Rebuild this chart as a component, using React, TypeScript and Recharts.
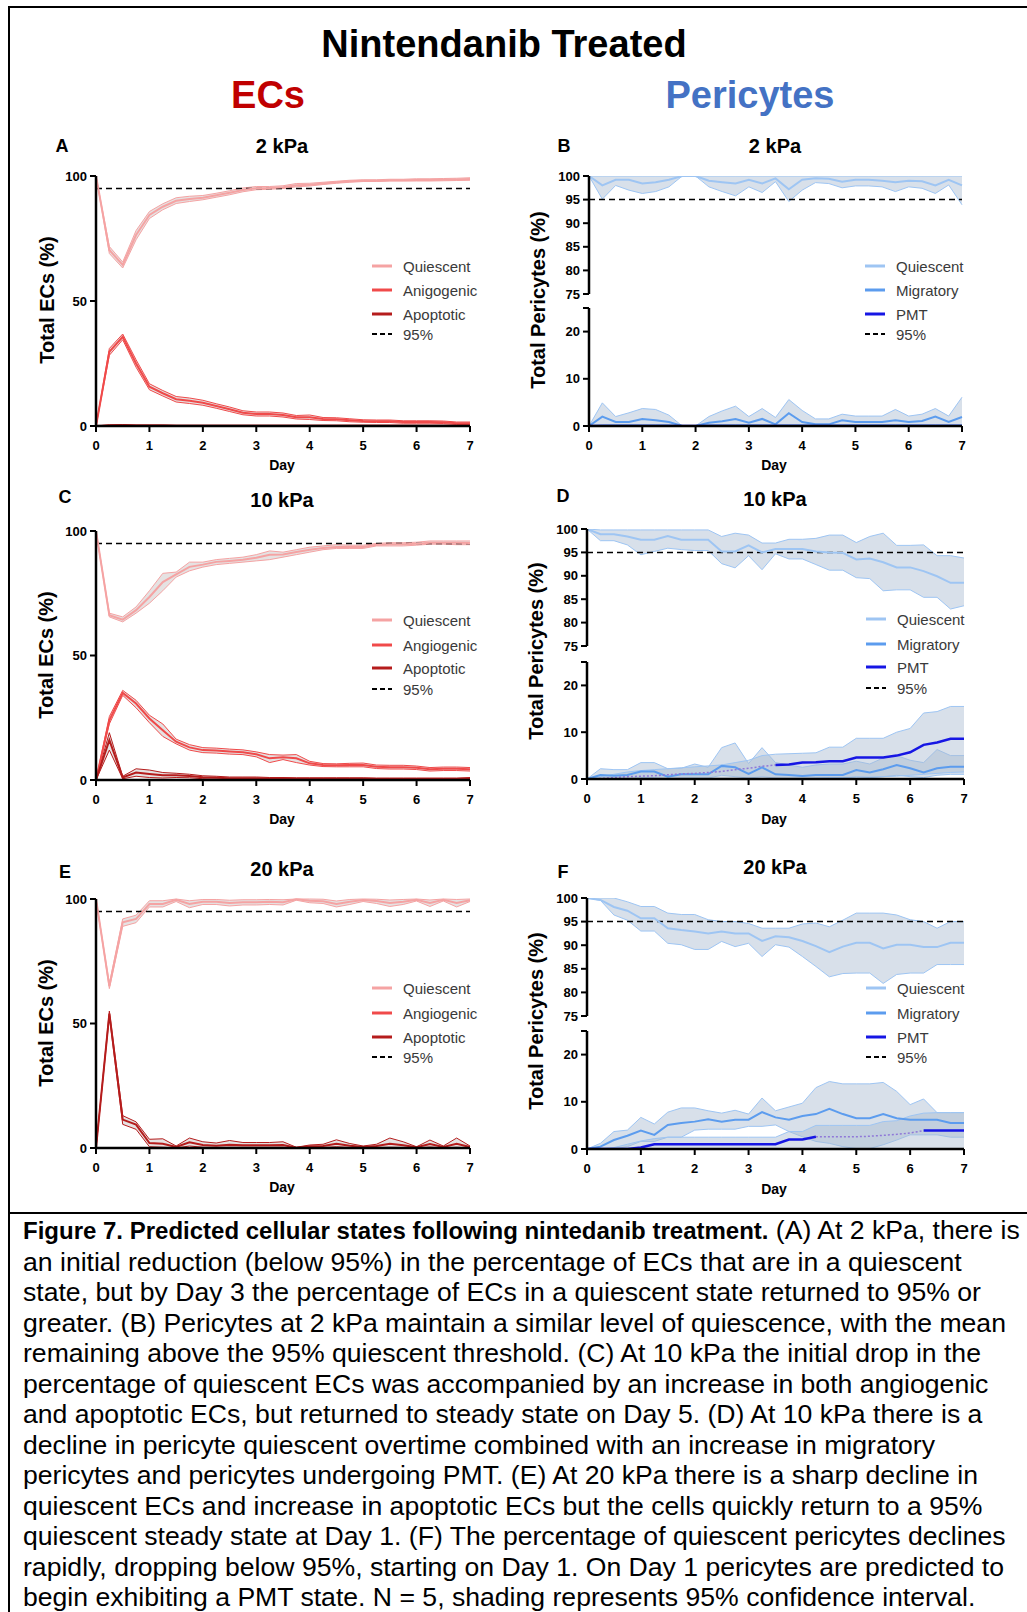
import React from "react";
import { Area, ComposedChart, Line, ReferenceLine, XAxis, YAxis } from "recharts";

const FONT = '"Liberation Sans", Arial, Helvetica, sans-serif';

// sampling days (every 6 h)
const days = [0, 0.25, 0.5, 0.75, 1, 1.25, 1.5, 1.75, 2, 2.25, 2.5, 2.75, 3, 3.25, 3.5, 3.75, 4, 4.25, 4.5, 4.75, 5, 5.25, 5.5, 5.75, 6, 6.25, 6.5, 6.75, 7];
const dayTicks = [0, 1, 2, 3, 4, 5, 6, 7];
const ecTicks = [0, 50, 100];
const periTopTicks = [75, 80, 85, 90, 95, 100];
const periBottomTicks = [0, 10, 20, 25];

// A: ECs 2 kPa
const aQuiMean = [100, 70.4, 64.4, 76.4, 84.4, 87.7, 90.1, 90.8, 91.3, 92.3, 93.3, 94.4, 95.1, 95.2, 95.5, 96.3, 96.5, 97, 97.5, 97.9, 98.1, 98.1, 98.3, 98.3, 98.4, 98.4, 98.5, 98.6, 98.8];
const aQuiLo = [100, 69, 63.2, 74.5, 83, 86.5, 89, 89.8, 90.5, 91.5, 92.5, 93.7, 94.5, 94.7, 95, 95.7, 96, 96.6, 97.1, 97.5, 97.8, 97.8, 98, 98, 98, 98, 98.1, 98.2, 98.3];
const aQuiHi = [100, 71.8, 65.6, 78.2, 85.8, 88.9, 91.3, 91.9, 92.2, 93.1, 94.1, 95.2, 95.8, 95.8, 96.1, 97, 97.1, 97.5, 97.9, 98.3, 98.5, 98.5, 98.7, 98.7, 98.9, 98.9, 99, 99.1, 99.3];
const aAngMean = [0, 29.7, 35.7, 25, 15.7, 13.1, 10.7, 10.1, 9.3, 8, 6.7, 5.3, 4.8, 4.8, 4.4, 3.5, 3.5, 2.8, 2.7, 2.3, 2, 1.9, 1.9, 1.6, 1.6, 1.6, 1.5, 1.1, 1.1];
const aAngLo = [0, 28.3, 34.5, 23.5, 14.5, 12, 9.6, 9, 8.3, 7.1, 5.8, 4.5, 4, 4, 3.6, 2.8, 2.6, 2.2, 2.1, 1.7, 1.5, 1.4, 1.4, 1.1, 1.1, 1.1, 1, 0.6, 0.6];
const aAngHi = [0, 31, 36.8, 26.5, 16.9, 14.2, 11.8, 11.2, 10.3, 8.9, 7.6, 6.1, 5.6, 5.6, 5.2, 4.2, 4.4, 3.4, 3.3, 2.9, 2.5, 2.4, 2.4, 2.1, 2.1, 2.1, 2, 1.6, 1.6];
const aApoMean = [0, 0.2, 0.3, 0.2, 0.2, 0.2, 0.1, 0.1, 0.1, 0.1, 0.1, 0.1, 0.1, 0.1, 0.1, 0.1, 0.1, 0.1, 0.1, 0.1, 0.1, 0.1, 0.1, 0.1, 0.1, 0.1, 0.1, 0.1, 0.1];
const aApoLo = [0, 0, 0, 0, 0, 0, 0, 0, 0, 0, 0, 0, 0, 0, 0, 0, 0, 0, 0, 0, 0, 0, 0, 0, 0, 0, 0, 0, 0];
const aApoHi = [0, 0.5, 0.6, 0.4, 0.4, 0.4, 0.3, 0.3, 0.3, 0.3, 0.3, 0.3, 0.3, 0.3, 0.3, 0.3, 0.3, 0.3, 0.3, 0.3, 0.3, 0.3, 0.3, 0.3, 0.3, 0.3, 0.3, 0.3, 0.3];

// B: pericytes 2 kPa
const bQuiMean = [100, 98, 99.2, 99.2, 98.4, 98.7, 99.2, 100, 100, 99, 98.7, 98.4, 99.2, 98.4, 99.5, 97.2, 99.2, 99.5, 99.4, 98.8, 99.2, 99.2, 99, 98.7, 99, 98.9, 98, 99.2, 98];
const bQuiLo = [100, 95.1, 98, 97, 96.3, 96.7, 97.7, 100, 100, 97.7, 96.7, 95.8, 97.7, 96.5, 98.8, 94.6, 97, 98.6, 98.4, 97.5, 97.9, 97.9, 97.7, 96.7, 97.7, 97.4, 96.3, 98.1, 93.9];
const bQuiHi = [100, 100, 100, 100, 100, 100, 100, 100, 100, 100, 100, 100, 100, 100, 100, 100, 100, 100, 100, 100, 100, 100, 100, 100, 100, 100, 100, 100, 100];
const bMigMean = [0, 2, 0.85, 0.85, 1.5, 1.2, 0.85, 0, 0, 0.7, 1, 1.5, 0.7, 1.5, 0.35, 2.7, 0.85, 0.35, 0.35, 1.2, 0.85, 0.85, 0.85, 1.2, 0.85, 1.05, 2, 0.85, 1.9];
const bMigLo = [0, 0, 0, 0, 0, 0, 0, 0, 0, 0, 0, 0, 0, 0, 0, 0, 0, 0, 0, 0, 0, 0, 0, 0, 0, 0, 0, 0, 0];
const bMigHi = [0, 4.9, 2, 2.8, 3.7, 3.5, 2.3, 0, 0, 2, 3.2, 4.2, 2, 3.7, 1.8, 5.6, 3.3, 1.5, 1.5, 2.5, 2.1, 2.1, 2.1, 3.5, 2.1, 2.5, 3.7, 2.1, 6.1];
const bPmtMean = [0, 0, 0, 0, 0, 0, 0, 0, 0, 0, 0, 0, 0, 0, 0, 0, 0, 0, 0, 0, 0, 0, 0, 0, 0, 0, 0, 0, 0];
const bPmtLo = [0, 0, 0, 0, 0, 0, 0, 0, 0, 0, 0, 0, 0, 0, 0, 0, 0, 0, 0, 0, 0, 0, 0, 0, 0, 0, 0, 0, 0];
const bPmtHi = [0, 0.3, 0.3, 0.3, 0.3, 0.3, 0.3, 0, 0, 0.3, 0.3, 0.3, 0.3, 0.3, 0.3, 0.3, 0.3, 0.3, 0.3, 0.3, 0.3, 0.3, 0.3, 0.3, 0.3, 0.3, 0.3, 0.3, 0.3];

// C: ECs 10 kPa
const cQuiMean = [100, 66.2, 64.4, 68.2, 73.5, 79.5, 82.6, 85.6, 86.5, 87.6, 88, 88.5, 89.3, 90.5, 90.6, 91.6, 92.5, 93.2, 93.6, 93.6, 93.6, 94.5, 94.7, 94.7, 94.9, 95.3, 95.3, 95.3, 95.2];
const cQuiLo = [100, 65.5, 63.5, 67, 71, 76, 81.5, 84, 85.5, 86.5, 87, 87.5, 88, 88.5, 89.5, 90.5, 91.5, 92.5, 93, 93, 93, 94, 94, 94, 94.3, 94.7, 94.7, 94.5, 94.5];
const cQuiHi = [100, 67, 65.5, 69.5, 76, 83, 83.5, 87.5, 87.5, 88.5, 89, 89.5, 90.5, 92, 91.5, 92.5, 93.5, 94, 94.5, 94.3, 94.3, 95, 95.3, 95.3, 95.5, 96, 96, 96, 96];
const cAngMean = [0, 24, 35, 30.7, 24.7, 20, 15.4, 13.1, 12, 11.8, 11.4, 11.1, 10.3, 8.7, 9.1, 8.7, 6.7, 6, 5.9, 6, 6, 5.3, 5.1, 5.1, 4.9, 4.3, 4.5, 4.5, 4.3];
const cAngLo = [0, 22.5, 34, 29, 23, 17.5, 14.5, 12, 11, 10.8, 10.4, 10.2, 9.3, 7, 8.2, 7, 6, 5.4, 5.3, 5.3, 5.3, 4.6, 4.4, 4.4, 4.2, 3.6, 3.8, 3.8, 3.6];
const cAngHi = [0, 25.5, 36, 32, 26, 22.5, 16.4, 14.2, 13, 12.8, 12.4, 12.1, 11.3, 10.2, 10, 10.2, 7.5, 6.6, 6.5, 6.7, 6.8, 6, 5.9, 5.9, 5.6, 5, 5.2, 5.2, 5];
const cApoMean = [0, 16, 1, 3, 2.4, 1.9, 1.9, 1.6, 1.1, 0.9, 0.7, 0.7, 0.7, 0.6, 0.6, 0.5, 0.5, 0.5, 0.5, 0.5, 0.5, 0.4, 0.4, 0.4, 0.4, 0.4, 0.4, 0.4, 0.5];
const cApoLo = [0, 12, 0.5, 1.5, 1, 0.8, 1, 0.9, 0.5, 0.3, 0.2, 0.2, 0.2, 0.2, 0.2, 0.1, 0.1, 0.1, 0.1, 0.1, 0.1, 0.1, 0.1, 0.1, 0.1, 0.1, 0.1, 0.1, 0.1];
const cApoHi = [0, 19, 1.5, 4.5, 4, 3, 2.7, 2.3, 1.7, 1.5, 1.2, 1.2, 1.2, 1, 1, 0.9, 0.9, 0.9, 0.9, 0.9, 0.9, 0.8, 0.8, 0.8, 0.8, 0.8, 0.8, 0.8, 1];

// D: pericytes 10 kPa
const dQuiMean = [100, 98.9, 98.9, 98.4, 97.7, 97.7, 98.5, 97.7, 97.7, 97.7, 95.2, 95.2, 96.5, 95, 95.7, 95.7, 95.7, 95.2, 95, 94.9, 93.5, 93.7, 92.9, 91.8, 91.8, 91, 89.9, 88.5, 88.5];
const dQuiLo = [100, 97.5, 97.5, 96.6, 94.5, 95.2, 95.9, 95.6, 95.4, 95.4, 92.6, 91.7, 94.3, 91.3, 94.7, 93.6, 93.6, 92.4, 91.2, 91.2, 89.6, 89.4, 86.8, 87, 87, 85.4, 85.4, 82.9, 83.6];
const dQuiHi = [100, 99.8, 99.8, 99.8, 99.8, 99.8, 99.8, 99.8, 99.8, 99.8, 98.4, 99.1, 98.7, 97, 97, 97.8, 97.8, 98, 98.7, 98.7, 97.1, 98.4, 99.1, 96.5, 96.5, 96.6, 94.3, 94.3, 93.8];
const dMigMean = [0, 0.85, 0.7, 0.85, 1.6, 1.6, 0.5, 1, 1, 1, 2.8, 2.5, 1.1, 2.5, 1, 0.85, 0.65, 0.85, 0.85, 0.85, 1.9, 1.4, 2.1, 3, 2.3, 1.4, 2.3, 2.6, 2.6];
const dMigLo = [0, 0, 0, 0, 0.3, 0.3, 0, 0.2, 0.2, 0.2, 0.8, 0.5, 0.2, 0.5, 0.2, 0.1, 0, 0.1, 0.1, 0.1, 0.5, 0.3, 0.5, 0.8, 0.5, 0.3, 0.8, 1, 1];
const dMigHi = [0, 2.2, 2, 2, 3.5, 3.5, 2.2, 2.3, 3.2, 2.5, 6.7, 7.7, 3.3, 6.7, 3.5, 3, 2.5, 3, 3.2, 3.2, 3.8, 3.2, 4.5, 5, 4, 3.5, 6.3, 5, 5];
const dPmtMean = [0, 0.1, 0.3, 0.5, 0.6, 0.7, 0.9, 1.1, 1.2, 1.4, 1.6, 2, 2.3, 2.7, 3, 3.1, 3.5, 3.6, 3.8, 3.8, 4.6, 4.6, 4.6, 5, 5.7, 7.3, 7.8, 8.6, 8.6];
const dPmtLo = [0, 0, 0, 0, 0, 0, 0, 0, 0, 0, 0, 0, 0, 0, 0, 0, 0, 0.2, 0.3, 0.3, 0.4, 0.4, 0.5, 0.6, 0.8, 1, 1.2, 1.4, 1.5];
const dPmtHi = [0, 0.5, 1, 1.5, 1.8, 2, 2.2, 2.4, 2.6, 2.8, 3, 3.5, 4, 5, 5.3, 5.4, 5.5, 5.6, 6.8, 6.8, 8.7, 8.7, 8.7, 10, 10.8, 14.1, 14.4, 15.5, 15.5];
const dPmtDotted = [0, 3.5];

// E: ECs 20 kPa
const eQuiMean = [100, 65, 90.6, 92, 98, 98, 99.7, 98, 98.9, 98.9, 98.4, 98.7, 98.7, 98.9, 98.7, 99.9, 99.3, 99.1, 98, 98.9, 99.6, 99.2, 98.4, 98.9, 99.7, 98.4, 99.7, 98.4, 99.5];
const eQuiLo = [100, 64, 89, 90.5, 96.8, 96.8, 99, 96.5, 97.8, 97.8, 97.2, 97.6, 97.6, 97.8, 97.6, 99.5, 98.5, 98.2, 96.8, 97.8, 99, 98.2, 97, 97.8, 99.2, 97, 99.2, 96.8, 99];
const eQuiHi = [100, 66, 92, 93.5, 99.3, 99.3, 100, 99.3, 99.8, 99.8, 99.5, 99.7, 99.7, 99.8, 99.7, 100, 100, 99.9, 99.2, 99.8, 100, 99.9, 99.6, 99.8, 100, 99.6, 100, 99.8, 100];
const eAngMean = [0, 0, 0, 0, 0, 0, 0, 0, 0, 0, 0, 0, 0, 0, 0, 0, 0, 0, 0, 0, 0, 0, 0, 0, 0, 0, 0, 0, 0];
const eAngLo = [0, 0, 0, 0, 0, 0, 0, 0, 0, 0, 0, 0, 0, 0, 0, 0, 0, 0, 0, 0, 0, 0, 0, 0, 0, 0, 0, 0, 0];
const eAngHi = [0, 0, 0, 0, 0, 0, 0, 0, 0, 0, 0, 0, 0, 0, 0, 0, 0, 0, 0, 0, 0, 0, 0, 0, 0, 0, 0, 0, 0];
const eApoMean = [0, 54, 11.4, 9.4, 2, 1.7, 0.4, 2.3, 1.2, 0.9, 1.3, 1.1, 1.1, 1.1, 1.2, 0.1, 0.7, 0.8, 1.7, 0.9, 0.4, 0.8, 1.7, 1.1, 0.3, 1.6, 0.4, 1.7, 0.4];
const eApoLo = [0, 53, 9.5, 7.5, 0.5, 0.3, 0, 0.8, 0.3, 0.2, 0.3, 0.3, 0.3, 0.3, 0.3, 0, 0.2, 0.2, 0.5, 0.2, 0, 0.2, 0.3, 0.2, 0, 0.4, 0, 0.3, 0];
const eApoHi = [0, 55, 13, 10.5, 3.5, 3.7, 0.8, 4, 2.5, 2, 3, 2.2, 2.2, 2.2, 2.5, 0.3, 1.2, 1.5, 3.3, 1.8, 0.8, 1.5, 4, 2.5, 0.5, 3.2, 0.8, 4, 0.8];

// F: pericytes 20 kPa
const fQuiMean = [100, 99.6, 98.1, 97.3, 95.7, 95.7, 93.6, 93.2, 92.9, 92.5, 92.9, 92.5, 92.5, 90.9, 91.9, 91.7, 90.9, 89.8, 88.5, 89.7, 90.5, 90.5, 89.3, 90.1, 90.1, 89.6, 89.6, 90.5, 90.5];
const fQuiLo = [100, 99.5, 96.4, 95.3, 93, 93, 90.4, 90.1, 89.1, 89.1, 90.8, 89.7, 90.4, 87.6, 90.1, 89.6, 87.6, 85.5, 83.3, 84, 84.1, 84.1, 81.9, 83.8, 84.1, 84.1, 85.9, 85.9, 85.9];
const fQuiHi = [100, 100, 100, 99.2, 98.2, 98.2, 96.8, 96.5, 96.5, 95.4, 95, 95, 94.6, 93.6, 93.6, 93.6, 94.5, 94.7, 93.9, 95.3, 96.8, 96.8, 96.8, 96.4, 95.4, 95, 93.6, 95, 95];
const fMigMean = [0, 0.5, 1.9, 2.8, 3.9, 3, 5.1, 5.5, 5.8, 6.3, 5.8, 6.2, 6.2, 7.8, 6.7, 6.2, 7, 7.4, 8.5, 7.4, 6.5, 6.5, 7.4, 6.5, 6.2, 6.2, 6.2, 5.5, 5.5];
const fMigLo = [0, 0, 0, 0.5, 1.6, 1.6, 2.5, 2.5, 4, 4.2, 4.2, 4.2, 4.8, 4.8, 5.1, 3.7, 2.6, 1.6, 1.2, 0.5, 0.1, 0.1, 0.9, 1.9, 3, 3, 3, 2.5, 2.5];
const fMigHi = [0, 1.2, 3.7, 4, 6.7, 5.3, 7.8, 8.7, 8.7, 8.1, 7.6, 8.2, 7.4, 10.8, 8.1, 8.9, 9.7, 13, 14.3, 13.8, 13.8, 13.8, 14.1, 12.2, 9.4, 10.6, 7.7, 7.7, 7.7];
const fPmtMean = [0, 0, 0, 0, 0.3, 1, 1, 1, 1, 1, 1, 1, 1, 1, 1, 2, 2, 2.6, 2.6, 2.6, 2.6, 2.7, 2.9, 3.1, 3.4, 3.9, 3.9, 3.9, 3.9];
const fPmtLo = [0, 0, 0, 0, 0, 0, 0, 0, 0, 0, 0, 0, 0, 0, 0, 0, 0, 0, 0, 0, 0, 0, 0, 0, 0, 0, 0, 0, 0];
const fPmtHi = [0, 0, 0.3, 1, 1.7, 2.2, 2.5, 2.5, 2.5, 2.5, 2.5, 2.5, 2.5, 2.5, 2.5, 3.7, 3.7, 5, 5, 5, 5, 5, 5.8, 6, 7, 7.6, 7.7, 7.7, 7.7];
const fPmtDotted = [4.25, 6.25];

const ecLegendA = ["Quiescent", "Anigogenic", "Apoptotic", "95%"];
const ecLegend = ["Quiescent", "Angiogenic", "Apoptotic", "95%"];
const periLegend = ["Quiescent", "Migratory", "PMT", "95%"];

const captionLines = [
  "an initial reduction (below 95%) in the percentage of ECs that are in a quiescent",
  "state, but by Day 3 the percentage of ECs in a quiescent state returned to 95% or",
  "greater. (B) Pericytes at 2 kPa maintain a similar level of quiescence, with the mean",
  "remaining above the 95% quiescent threshold. (C) At 10 kPa the initial drop in the",
  "percentage of quiescent ECs was accompanied by an increase in both angiogenic",
  "and apoptotic ECs, but returned to steady state on Day 5. (D) At 10 kPa there is a",
  "decline in pericyte quiescent overtime combined with an increase in migratory",
  "pericytes and pericytes undergoing PMT. (E) At 20 kPa there is a sharp decline in",
  "quiescent ECs and increase in apoptotic ECs but the cells quickly return to a 95%",
  "quiescent steady state at Day 1. (F) The percentage of quiescent pericytes declines",
  "rapidly, dropping below 95%, starting on Day 1. On Day 1 pericytes are predicted to",
  "begin exhibiting a PMT state. N = 5, shading represents 95% confidence interval.",
];

const EC_Q = "#f5a3a3";
const EC_A = "#f04a4a";
const EC_P = "#b51c1c";
const PC_Q = "#9ec5f3";
const PC_M = "#5c9cee";
const PC_P = "#1616e4";
const PC_DOT = "#8f78d8";
const EC_FILL = "#cfcaca";
const PC_FILL = "#a9bbd0";

const tick = { fill: "#000", fontSize: 13, fontWeight: 700, fontFamily: FONT };
const axisLine = { stroke: "#000", strokeWidth: 2.5 };
const tickLine = { stroke: "#000", strokeWidth: 2 };
const YW = 56;

type S = { mean: number[]; lo: number[]; hi: number[] };

function band(s: S, i: number) {
  return [s.lo[i], s.hi[i]];
}

function EcChart({ left, top, h, q, a, p }: { left: number; top: number; h: number; q: S; a: S; p: S }) {
  const pw = 374;
  const rows = days.map((d, i) => ({
    day: d,
    qb: band(q, i), q: q.mean[i],
    ab: band(a, i), a: a.mean[i],
    pb: band(p, i), p: p.mean[i],
  }));
  return (
    <div style={{ position: "absolute", left: left - YW, top: top - 10 }}>
      <ComposedChart width={YW + pw + 12} height={10 + h + 34} data={rows} margin={{ top: 10, right: 12, bottom: 0, left: 0 }}>
        <XAxis type="number" dataKey="day" domain={[0, 7]} ticks={dayTicks} interval={0} height={34} axisLine={axisLine} tickLine={tickLine} tickSize={6} tickMargin={9} tick={tick} />
        <YAxis type="number" domain={[0, 100]} ticks={ecTicks} interval={0} width={YW} axisLine={axisLine} tickLine={tickLine} tickSize={6} tickMargin={3} tick={tick} />
        <ReferenceLine y={95} stroke="#000" strokeWidth={1.5} strokeDasharray="6 4" />
        <Area type="linear" dataKey="qb" stroke={EC_Q} strokeWidth={1} fill={EC_FILL} fillOpacity={0.55} dot={false} activeDot={false} isAnimationActive={false} />
        <Area type="linear" dataKey="ab" stroke={EC_A} strokeWidth={1} fill={EC_FILL} fillOpacity={0.55} dot={false} activeDot={false} isAnimationActive={false} />
        <Area type="linear" dataKey="pb" stroke={EC_P} strokeWidth={1} fill={EC_FILL} fillOpacity={0.55} dot={false} activeDot={false} isAnimationActive={false} />
        <Line type="linear" dataKey="q" stroke={EC_Q} strokeWidth={2} dot={false} activeDot={false} isAnimationActive={false} />
        <Line type="linear" dataKey="a" stroke={EC_A} strokeWidth={2} dot={false} activeDot={false} isAnimationActive={false} />
        <Line type="linear" dataKey="p" stroke={EC_P} strokeWidth={2} dot={false} activeDot={false} isAnimationActive={false} />
      </ComposedChart>
    </div>
  );
}

function PeriChart({ left, right, topT, topB, h, q, m, p, dotted }: { left: number; right: number; topT: number; topB: number; h: number; q: S; m: S; p: S; dotted?: number[] }) {
  const pw = right - left;
  const rows = days.map((d, i) => {
    const inDot = !!dotted && d >= dotted[0] && d <= dotted[1];
    const inside = !!dotted && d > dotted[0] && d < dotted[1];
    return {
      day: d,
      qb: band(q, i), q: q.mean[i],
      mb: band(m, i), m: m.mean[i],
      pb: band(p, i),
      ps: inside ? null : p.mean[i],
      pd: inDot ? p.mean[i] : null,
    };
  });
  return (
    <>
      <div style={{ position: "absolute", left: left - YW, top: topT - 10 }}>
        <ComposedChart width={YW + pw + 12} height={10 + h + 12} data={rows} margin={{ top: 10, right: 12, bottom: 12, left: 0 }}>
          <XAxis hide type="number" dataKey="day" domain={[0, 7]} />
          <YAxis type="number" domain={[75, 100]} allowDataOverflow ticks={periTopTicks} interval={0} width={YW} axisLine={axisLine} tickLine={tickLine} tickSize={6} tickMargin={3} tick={tick} />
          <ReferenceLine y={95} stroke="#000" strokeWidth={1.5} strokeDasharray="6 4" />
          <Area type="linear" dataKey="qb" stroke={PC_Q} strokeWidth={1} fill={PC_FILL} fillOpacity={0.45} dot={false} activeDot={false} isAnimationActive={false} />
          <Line type="linear" dataKey="q" stroke={PC_Q} strokeWidth={2} dot={false} activeDot={false} isAnimationActive={false} />
        </ComposedChart>
      </div>
      <div style={{ position: "absolute", left: left - YW, top: topB - 10 }}>
        <ComposedChart width={YW + pw + 12} height={10 + h + 34} data={rows} margin={{ top: 10, right: 12, bottom: 0, left: 0 }}>
          <XAxis type="number" dataKey="day" domain={[0, 7]} ticks={dayTicks} interval={0} height={34} axisLine={axisLine} tickLine={tickLine} tickSize={6} tickMargin={9} tick={tick} />
          <YAxis type="number" domain={[0, 25]} allowDataOverflow ticks={periBottomTicks} interval={0} width={YW} axisLine={axisLine} tickLine={tickLine} tickSize={6} tickMargin={3} tick={tick} tickFormatter={(v: number) => (v === 25 ? "" : String(v))} />
          <Area type="linear" dataKey="mb" stroke={PC_Q} strokeWidth={1} fill={PC_FILL} fillOpacity={0.45} dot={false} activeDot={false} isAnimationActive={false} />
          <Area type="linear" dataKey="pb" stroke={PC_Q} strokeWidth={1} fill={PC_FILL} fillOpacity={0.45} dot={false} activeDot={false} isAnimationActive={false} />
          <Line type="linear" dataKey="m" stroke={PC_M} strokeWidth={2} dot={false} activeDot={false} isAnimationActive={false} />
          <Line type="linear" dataKey="pd" stroke={PC_DOT} strokeWidth={1.5} strokeDasharray="2 2" dot={false} activeDot={false} isAnimationActive={false} />
          <Line type="linear" dataKey="ps" stroke={PC_P} strokeWidth={2.5} dot={false} activeDot={false} isAnimationActive={false} />
        </ComposedChart>
      </div>
    </>
  );
}

function Legend({ x, tops, labels, colors }: { x: number; tops: number[]; labels: string[]; colors: string[] }) {
  return (
    <>
      {labels.map((l, i) => (
        <div key={l} style={{ position: "absolute", left: x, top: tops[i] - 10, height: 20, display: "flex", alignItems: "center" }}>
          <svg width={20} height={4} style={{ marginRight: 11 }}>
            {i < 3 ? (
              <line x1={0} y1={2} x2={20} y2={2} stroke={colors[i]} strokeWidth={3} />
            ) : (
              <line x1={0} y1={2} x2={20} y2={2} stroke="#000" strokeWidth={2} strokeDasharray="5 3" />
            )}
          </svg>
          <span style={{ fontFamily: FONT, fontSize: 15, color: "#3a3a3a" }}>{l}</span>
        </div>
      ))}
    </>
  );
}

function T({ x, y, size, children, color = "#000", bold = true, rotate = false }: { x: number; y: number; size: number; children: React.ReactNode; color?: string; bold?: boolean; rotate?: boolean }) {
  return (
    <div
      style={{
        position: "absolute", left: x, top: y, whiteSpace: "nowrap", fontFamily: FONT, fontSize: size,
        fontWeight: bold ? 700 : 400, color, lineHeight: 1,
        transform: `translate(-50%, -50%)${rotate ? " rotate(-90deg)" : ""}`,
      }}
    >
      {children}
    </div>
  );
}

export default function App() {
  const A = { q: { mean: aQuiMean, lo: aQuiLo, hi: aQuiHi }, a: { mean: aAngMean, lo: aAngLo, hi: aAngHi }, p: { mean: aApoMean, lo: aApoLo, hi: aApoHi } };
  const C = { q: { mean: cQuiMean, lo: cQuiLo, hi: cQuiHi }, a: { mean: cAngMean, lo: cAngLo, hi: cAngHi }, p: { mean: cApoMean, lo: cApoLo, hi: cApoHi } };
  const E = { q: { mean: eQuiMean, lo: eQuiLo, hi: eQuiHi }, a: { mean: eAngMean, lo: eAngLo, hi: eAngHi }, p: { mean: eApoMean, lo: eApoLo, hi: eApoHi } };
  const ecColors = [EC_Q, EC_A, EC_P];
  const pcColors = [PC_Q, PC_M, PC_P];
  return (
    <div style={{ position: "absolute", left: 0, top: 0, width: 1027, height: 1612, background: "#fff", overflow: "hidden" }}>
      <div style={{ position: "absolute", left: 8, top: 6, width: 1019, height: 2, background: "#000" }} />
      <div style={{ position: "absolute", left: 8, top: 6, width: 2, height: 1606, background: "#000" }} />
      <div style={{ position: "absolute", left: 8, top: 1212, width: 1019, height: 2, background: "#000" }} />

      <T x={504} y={44} size={38}>Nintendanib Treated</T>
      <T x={268} y={95} size={38} color="#c00000">ECs</T>
      <T x={750} y={95} size={38} color="#4472c4">Pericytes</T>

      <T x={62} y={146} size={18}>A</T>
      <T x={282} y={146} size={20}>2 kPa</T>
      <T x={564} y={146} size={18}>B</T>
      <T x={775} y={146} size={20}>2 kPa</T>
      <T x={65} y={497} size={18}>C</T>
      <T x={282} y={500} size={20}>10 kPa</T>
      <T x={563} y={496} size={18}>D</T>
      <T x={775} y={499} size={20}>10 kPa</T>
      <T x={65} y={872} size={18}>E</T>
      <T x={282} y={869} size={20}>20 kPa</T>
      <T x={563} y={872} size={18}>F</T>
      <T x={775} y={867} size={20}>20 kPa</T>

      <EcChart left={96} top={176} h={250} {...A} />
      <EcChart left={96} top={531} h={249} {...C} />
      <EcChart left={96} top={899} h={249} {...E} />

      <PeriChart left={589} right={962} topT={176} topB={308} h={118}
        q={{ mean: bQuiMean, lo: bQuiLo, hi: bQuiHi }} m={{ mean: bMigMean, lo: bMigLo, hi: bMigHi }} p={{ mean: bPmtMean, lo: bPmtLo, hi: bPmtHi }} />
      <PeriChart left={587} right={964} topT={529} topB={662} h={117}
        q={{ mean: dQuiMean, lo: dQuiLo, hi: dQuiHi }} m={{ mean: dMigMean, lo: dMigLo, hi: dMigHi }} p={{ mean: dPmtMean, lo: dPmtLo, hi: dPmtHi }} dotted={dPmtDotted} />
      <PeriChart left={587} right={964} topT={898} topB={1031} h={118}
        q={{ mean: fQuiMean, lo: fQuiLo, hi: fQuiHi }} m={{ mean: fMigMean, lo: fMigLo, hi: fMigHi }} p={{ mean: fPmtMean, lo: fPmtLo, hi: fPmtHi }} dotted={fPmtDotted} />

      <T x={47} y={300} size={20} rotate>Total ECs (%)</T>
      <T x={46} y={655} size={20} rotate>Total ECs (%)</T>
      <T x={46} y={1023} size={20} rotate>Total ECs (%)</T>
      <T x={538} y={300} size={20} rotate>Total Pericytes (%)</T>
      <T x={536} y={651} size={20} rotate>Total Pericytes (%)</T>
      <T x={536} y={1021} size={20} rotate>Total Pericytes (%)</T>

      <T x={282} y={465} size={14}>Day</T>
      <T x={282} y={819} size={14}>Day</T>
      <T x={282} y={1187} size={14}>Day</T>
      <T x={774} y={465} size={14}>Day</T>
      <T x={774} y={819} size={14}>Day</T>
      <T x={774} y={1189} size={14}>Day</T>

      <Legend x={372} tops={[266, 290, 314, 334]} labels={ecLegendA} colors={ecColors} />
      <Legend x={372} tops={[620, 645, 668, 689]} labels={ecLegend} colors={ecColors} />
      <Legend x={372} tops={[988, 1013, 1037, 1057]} labels={ecLegend} colors={ecColors} />
      <Legend x={865} tops={[266, 290, 314, 334]} labels={periLegend} colors={pcColors} />
      <Legend x={866} tops={[619, 644, 667, 688]} labels={periLegend} colors={pcColors} />
      <Legend x={866} tops={[988, 1013, 1037, 1057]} labels={periLegend} colors={pcColors} />

      <div style={{ position: "absolute", left: 23, top: 1229 - 14, fontFamily: FONT, fontSize: 26.6, lineHeight: "30.5px", whiteSpace: "nowrap", color: "#000" }}>
        <div><b style={{ fontSize: 24 }}>Figure 7. Predicted cellular states following nintedanib treatment.</b> (A) At 2 kPa, there is</div>
        {captionLines.map((l) => (
          <div key={l}>{l}</div>
        ))}
      </div>
    </div>
  );
}
